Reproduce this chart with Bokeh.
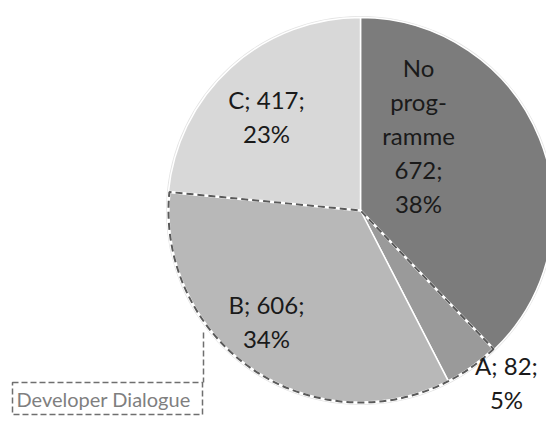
import numpy as np
from bokeh.plotting import figure
from bokeh.models import Range1d, ColumnDataSource
from bokeh.core.properties import value
from bokeh.embed import file_html
from bokeh.resources import INLINE

# ---- data ----
categories = ["No programme", "A", "B", "C"]
label_names = ["No\nprog-\nramme", "A;", "B;", "C;"]
counts = [672, 82, 606, 417]
colors = ["#7c7c7c", "#9a9a9a", "#b8b8b8", "#d8d8d8"]
group_name = "Developer Dialogue"
group_members = ["A", "B"]

# ---- layout constants (reference-pixel coordinates, y measured from top) ----
W, H = 546, 416
TOP = 424
cx, cy = 360, TOP - 210
R = 193
label_x = [418, 506, 266, 266]
label_y = [TOP - 135, TOP - 382, TOP - 321, TOP - 116]
FONT = "Lato"

total = float(sum(counts))
frac = np.array(counts) / total
cum = np.cumsum(frac)
start = np.pi / 2 - 2 * np.pi * (cum - frac)
end = np.pi / 2 - 2 * np.pi * cum
pct = [int(round(f * 100)) for f in frac]

texts = []
for name, c, p in zip(label_names, counts, pct):
    if name.endswith(";"):
        texts.append(f"{name} {c};\n{p}%")
    else:
        texts.append(f"{name}\n{c};\n{p}%")

src = ColumnDataSource(dict(cat=categories, start=start, end=end, color=colors,
                            lx=label_x, ly=label_y, txt=texts))

p = figure(width=W, height=H, output_backend="svg", toolbar_location=None,
           x_range=Range1d(0, W), y_range=Range1d(TOP - H, TOP),
           min_border=0)
p.axis.visible = False
p.grid.visible = False
p.outline_line_color = None
p.background_fill_color = "white"
p.border_fill_color = "white"

# soft outer edge
p.circle(x=[cx], y=[cy], radius=R + 1.5, radius_units="data",
         fill_color="#e4e4e4", line_color=None)

p.wedge(x=cx, y=cy, radius=R, start_angle="start", end_angle="end",
        direction="clock", fill_color="color", line_color="white",
        line_width=1.5, source=src)

# dashed outline around the Developer Dialogue group (A + B)
idx = [categories.index(m) for m in group_members]
g_start = start[min(idx)]
g_end = end[max(idx)]
p.wedge(x=cx, y=cy, radius=R - 1, start_angle=[g_start], end_angle=[g_end],
        direction="clock", fill_color=None, line_color="white", line_width=2.5)
p.wedge(x=cx, y=cy, radius=R - 1, start_angle=[g_start], end_angle=[g_end],
        direction="clock", fill_color=None, line_color="#5a5a5a",
        line_width=2, line_dash="7 4")

p.text(x="lx", y="ly", text="txt", source=src, text_align="center",
       text_baseline="middle", text_font=value(FONT), text_font_size="24px",
       text_color="#1a1a1a", text_line_height=1.17)

# callout box
p.segment(x0=[203], y0=[TOP - 332], x1=[203], y1=[TOP - 382],
          line_color="#6f6f6f", line_width=1.5, line_dash="6 3")
p.rect(x=[107], y=[TOP - 398], width=190, height=32,
       fill_color=None, line_color="#6f6f6f", line_width=1.5, line_dash="6 3")
p.text(x=[16], y=[TOP - 398], text=[group_name], text_align="left",
       text_baseline="middle", text_font=value(FONT), text_font_size="20px",
       text_color="#7f7f7f")

open("out.html", "w").write(file_html(p, INLINE))
